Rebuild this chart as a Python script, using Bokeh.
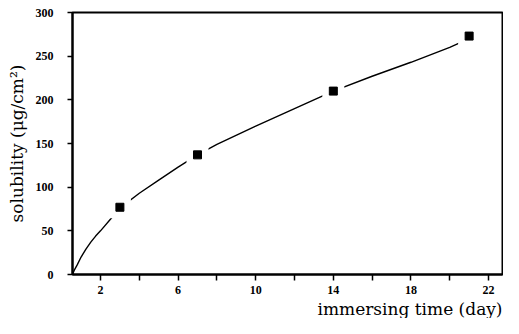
from bokeh.plotting import figure
from bokeh.models import FixedTicker, Range1d, Title
from bokeh.embed import file_html
from bokeh.resources import INLINE

# measured data points
days = [3, 7, 14, 21]
solubility = [77, 137, 210, 273]

# fitted curve
curve_days = [0.55, 0.65, 0.8, 1.0, 1.25, 1.5, 1.75, 2.0, 2.5, 3.0, 4.0, 5.0, 6.0, 7.0, 8.0, 10.0, 12.0, 14.0, 16.0, 18.0, 20.0, 21.0]
curve_sol = [0, 5, 11, 20, 29, 37, 44, 50, 63, 76, 93, 108, 123, 137, 149, 170, 190, 210, 227, 243, 260, 270]

x_major = [2, 6, 10, 14, 18, 22]
x_minor = [4, 8, 12, 16, 20]
y_ticks = [0, 50, 100, 150, 200, 250, 300]

p = figure(width=503, height=318, output_backend="svg", toolbar_location=None,
           x_range=Range1d(0.557, 22.72), y_range=Range1d(0, 300),
           min_border_left=72, min_border_right=1, min_border_top=12, min_border_bottom=43)
p.background_fill_color = "white"
p.border_fill_color = "white"
p.grid.visible = False
p.outline_line_color = "black"
p.outline_line_width = 2

p.line(curve_days, curve_sol, line_color="black", line_width=1.4)
p.rect(days, solubility, width=22, height=22, width_units="screen", height_units="screen",
       fill_color="#ffffff", fill_alpha=1.0, line_color=None)
p.rect(days, solubility, width=8, height=8, width_units="screen", height_units="screen",
       fill_color="black", line_color="black")

tick_font = "Liberation Sans Narrow"
p.xaxis.ticker = FixedTicker(ticks=x_major, minor_ticks=x_minor)
p.yaxis.ticker = FixedTicker(ticks=y_ticks, minor_ticks=[])
for ax in (p.xaxis[0], p.yaxis[0]):
    ax.axis_line_width = 2
    ax.axis_line_color = "black"
    ax.major_tick_line_color = "black"
    ax.minor_tick_line_color = "black"
    ax.major_tick_line_width = 1.5
    ax.minor_tick_line_width = 1.5
    ax.major_tick_in = 0
    ax.minor_tick_in = 0
    ax.major_label_text_font = tick_font
    ax.major_label_text_font_style = "bold"
    ax.major_label_text_font_size = "12px"
    ax.major_label_text_color = "black"
p.xaxis.major_tick_out = 6
p.xaxis.minor_tick_out = 6
p.yaxis.major_tick_out = 5
p.xaxis.major_label_standoff = 5
p.yaxis.major_label_standoff = 14

p.yaxis.axis_label = "solubility (\u03bcg/cm\u00b2)"
p.yaxis.axis_label_text_font = "DejaVu Serif"
p.yaxis.axis_label_text_font_style = "normal"
p.yaxis.axis_label_text_font_size = "17px"
p.yaxis.axis_label_text_color = "black"
p.yaxis.axis_label_standoff = 6

p.add_layout(Title(text="immersing time (day)", align="right", text_font="DejaVu Serif",
                   text_font_style="normal", text_font_size="17px", text_color="black",
                   standoff=0, offset=0), "below")

open("out.html", "w").write(file_html(p, INLINE))
